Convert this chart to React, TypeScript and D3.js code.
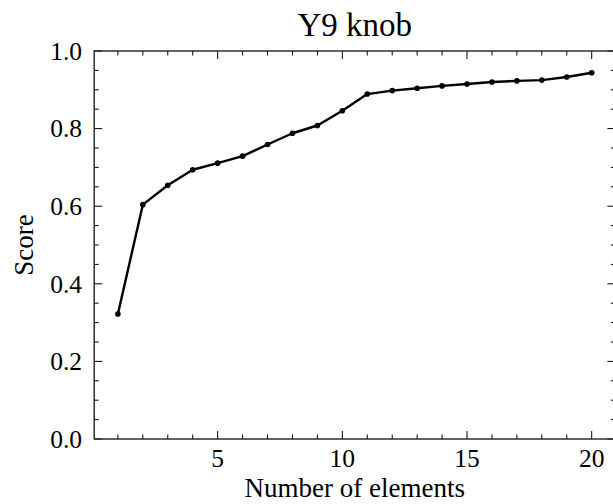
import React from "react";
import * as d3 from "d3";

const xs = [1, 2, 3, 4, 5, 6, 7, 8, 9, 10, 11, 12, 13, 14, 15, 16, 17, 18, 19, 20];
const scores = [0.322, 0.604, 0.654, 0.694, 0.711, 0.729, 0.759, 0.788, 0.808, 0.846, 0.889, 0.898, 0.904, 0.910, 0.915, 0.920, 0.923, 0.925, 0.933, 0.944];
const xMajorTicks = [5, 10, 15, 20];
const yMajorTicks = [0.0, 0.2, 0.4, 0.6, 0.8, 1.0];
const title = "Y9 knob";
const xLabel = "Number of elements";
const yLabel = "Score";

const W = 613;
const H = 504;
const FONT = "Liberation Serif, DejaVu Serif, serif";

export default function App() {
  const left = 94.2, right = 615.4, top = 51, bottom = 439;
  const x = d3.scaleLinear().domain([0.05, 20.95]).range([left, right]);
  const y = d3.scaleLinear().domain([0, 1]).range([bottom, top]);
  const xMinor = d3.range(1, 21).filter((v) => !xMajorTicks.includes(v));
  const yMinor = d3.range(0, 21).map((i) => i * 0.05).filter((v) => Math.abs(v * 5 - Math.round(v * 5)) > 1e-6);
  const line = d3.line<number>().x((_, i) => x(xs[i])).y((d) => y(d));
  const MAJ = 8, MIN = 4.5;
  const txt = { fontFamily: FONT, fill: "#000" } as React.CSSProperties;
  return (
    <svg width={W} height={H} style={{ position: "absolute", left: 0, top: 0, background: "#fff" }}>
      <rect x={0} y={0} width={W} height={H} fill="#fff" />
      <g stroke="#000" strokeWidth={1}>
        {xMajorTicks.map((t) => (
          <g key={"xM" + t}>
            <line x1={x(t)} x2={x(t)} y1={bottom} y2={bottom - MAJ} />
            <line x1={x(t)} x2={x(t)} y1={top} y2={top + MAJ} />
          </g>
        ))}
        {xMinor.map((t) => (
          <g key={"xm" + t}>
            <line x1={x(t)} x2={x(t)} y1={bottom} y2={bottom - MIN} />
            <line x1={x(t)} x2={x(t)} y1={top} y2={top + MIN} />
          </g>
        ))}
        {yMajorTicks.map((t) => (
          <g key={"yM" + t}>
            <line x1={left} x2={left + MAJ} y1={y(t)} y2={y(t)} />
            <line x1={right} x2={right - MAJ} y1={y(t)} y2={y(t)} />
          </g>
        ))}
        {yMinor.map((t) => (
          <g key={"ym" + t}>
            <line x1={left} x2={left + MIN} y1={y(t)} y2={y(t)} />
            <line x1={right} x2={right - MIN} y1={y(t)} y2={y(t)} />
          </g>
        ))}
      </g>
      <rect x={left} y={top} width={right - left} height={bottom - top} fill="none" stroke="#222" strokeWidth={1.4} />
      <path d={line(scores) || ""} fill="none" stroke="#000" strokeWidth={2.4} strokeLinejoin="round" />
      {scores.map((s, i) => (
        <circle key={i} cx={x(xs[i])} cy={y(s)} r={2.8} fill="#000" />
      ))}
      {xMajorTicks.map((t) => (
        <text key={"xl" + t} x={x(t)} y={467} textAnchor="middle" fontSize={25.5} style={txt}>{String(t)}</text>
      ))}
      {yMajorTicks.map((t) => (
        <text key={"yl" + t} x={82} y={y(t) + 8.8} textAnchor="end" fontSize={25.5} style={txt}>{t.toFixed(1)}</text>
      ))}
      <text x={(left + right) / 2} y={497} textAnchor="middle" fontSize={27} style={txt}>{xLabel}</text>
      <text transform={`translate(33,${(top + bottom) / 2}) rotate(-90)`} textAnchor="middle" fontSize={27} style={txt}>{yLabel}</text>
      <text x={(left + right) / 2} y={36} textAnchor="middle" fontSize={33} style={txt}>{title}</text>
    </svg>
  );
}
